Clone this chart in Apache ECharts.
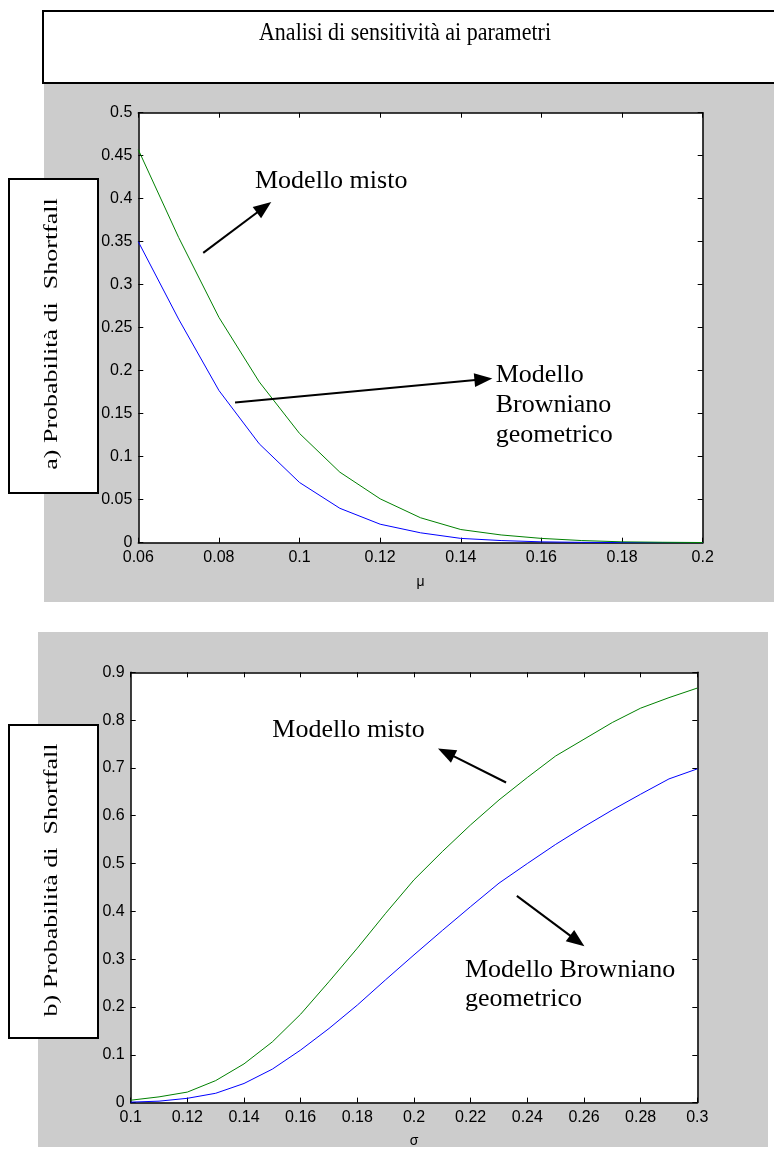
<!DOCTYPE html>
<html>
<head>
<meta charset="utf-8">
<script src="https://cdn.jsdelivr.net/npm/echarts@6/dist/echarts.min.js"></script>
<style>
html,body{margin:0;padding:0;background:#fff;}
#chart{width:774px;height:1153px;}
</style>
</head>
<body>
<div id="chart"></div>
<script>
// ---- Data: panel a) sensitivity to mu ----
const mu = [0.06,0.07,0.08,0.09,0.10,0.11,0.12,0.13,0.14,0.15,0.16,0.17,0.18,0.19,0.20];
const gbmA = [0.350,0.260,0.177,0.115,0.070,0.040,0.0215,0.0115,0.005,0.0025,0.001,0.0004,0.0002,0.0001,0.0];
const mixA = [0.457,0.355,0.262,0.187,0.127,0.082,0.051,0.029,0.0153,0.009,0.005,0.0025,0.001,0.0005,0.0002];

// ---- Data: panel b) sensitivity to sigma ----
const sigma = [0.10,0.11,0.12,0.13,0.14,0.15,0.16,0.17,0.18,0.19,0.20,0.21,0.22,0.23,0.24,0.25,0.26,0.27,0.28,0.29,0.30];
const gbmB = [0.001,0.003,0.009,0.0195,0.040,0.070,0.110,0.155,0.204,0.257,0.309,0.360,0.410,0.459,0.500,0.540,0.577,0.612,0.645,0.677,0.698];
const mixB = [0.005,0.012,0.022,0.046,0.081,0.127,0.185,0.253,0.323,0.396,0.466,0.525,0.581,0.633,0.680,0.725,0.760,0.795,0.825,0.847,0.867];

// ---- Annotation arrows (data coordinates: [from], [to]) ----
const arrowA1 = [[0.0761,0.337],[0.0912,0.390]];   // Modello misto
const arrowA2 = [[0.0840,0.163],[0.1456,0.190]];   // Modello Browniano geometrico
const arrowB1 = [[0.2325,0.6695],[0.2113,0.7323]]; // Modello misto
const arrowB2 = [[0.2363,0.4324],[0.2576,0.3382]]; // Modello Browniano geometrico

// ---- Text ----
const titleText = 'Analisi di sensitività ai parametri';
const yLabelA = 'a) Probabilità di  Shortfall';
const yLabelB = 'b) Probabilità di  Shortfall';
const xNameA = 'μ';
const xNameB = 'σ';

const pairs = (xs, ys) => xs.map((x, i) => [x, ys[i]]);
const fmt = v => String(+(+v).toFixed(4));

const SANS = 'Liberation Sans, Arial, sans-serif';
const SERIF = 'Liberation Serif, Times New Roman, serif';

function xAxisCfg(grid, min, max, interval, pos, name) {
  const main = pos === 'bottom';
  return {
    type: 'value', gridIndex: grid, min, max, interval, position: pos,
    axisLine: { show: true, onZero: false, lineStyle: { color: '#000', width: 1.5 } },
    axisTick: { show: true, inside: true, length: 5, lineStyle: { color: '#000', width: 1 } },
    axisLabel: { show: main, color: '#000', fontSize: 16, fontFamily: SANS, margin: 7, formatter: fmt },
    splitLine: { show: false },
    name: main ? name : '', nameLocation: 'middle', nameGap: 32,
    nameTextStyle: { color: '#000', fontSize: 14, fontFamily: SANS }
  };
}
function yAxisCfg(grid, min, max, interval, pos) {
  const main = pos === 'left';
  return {
    type: 'value', gridIndex: grid, min, max, interval, position: pos,
    axisLine: { show: true, onZero: false, lineStyle: { color: '#000', width: 1.5 } },
    axisTick: { show: true, inside: true, length: 5, lineStyle: { color: '#000', width: 1 } },
    axisLabel: { show: main, color: '#000', fontSize: 16, fontFamily: SANS, margin: 6, formatter: fmt },
    splitLine: { show: false }
  };
}
function arrowLine(a) {
  return {
    silent: true, animation: false,
    symbol: ['none', 'triangle'], symbolSize: [14, 18],
    label: { show: false },
    itemStyle: { color: '#000' },
    lineStyle: { color: '#000', width: 2, type: 'solid' },
    emphasis: { disabled: true },
    data: [[{ coord: a[0] }, { coord: a[1] }]]
  };
}
function lineSeries(x, y, data, color, mark) {
  const s = {
    type: 'line', xAxisIndex: x, yAxisIndex: y, data, showSymbol: false, symbol: 'none',
    lineStyle: { color, width: 1 }, itemStyle: { color }, animation: false, silent: true, z: 3
  };
  if (mark) s.markLine = mark;
  return s;
}
function annText(x, y, text) {
  return { type: 'text', x, y, z: 20,
    style: { text, fill: '#000', font: '26px ' + SERIF, textAlign: 'left', textVerticalAlign: 'middle' } };
}

const chart = echarts.init(document.getElementById('chart'), null, { renderer: 'canvas' });
chart.setOption({
  backgroundColor: '#fff',
  animation: false,
  grid: [
    { left: 138.3, top: 112.7, width: 564.4, height: 430 },
    { left: 130.7, top: 672.3, width: 566.6, height: 430.3 }
  ],
  xAxis: [
    xAxisCfg(0, 0.06, 0.2, 0.02, 'bottom', xNameA),
    xAxisCfg(0, 0.06, 0.2, 0.02, 'top'),
    xAxisCfg(1, 0.1, 0.3, 0.02, 'bottom', xNameB),
    xAxisCfg(1, 0.1, 0.3, 0.02, 'top')
  ],
  yAxis: [
    yAxisCfg(0, 0, 0.5, 0.05, 'left'),
    yAxisCfg(0, 0, 0.5, 0.05, 'right'),
    yAxisCfg(1, 0, 0.9, 0.1, 'left'),
    yAxisCfg(1, 0, 0.9, 0.1, 'right')
  ],
  graphic: [
    // gray figure backgrounds and white axes areas
    { type: 'rect', z: -10, shape: { x: 44, y: 83, width: 740, height: 519 }, style: { fill: '#cccccc' } },
    { type: 'rect', z: -9, shape: { x: 138.3, y: 112.7, width: 564.4, height: 430 }, style: { fill: '#fff' } },
    { type: 'rect', z: -10, shape: { x: 38, y: 632, width: 730, height: 515 }, style: { fill: '#cccccc' } },
    { type: 'rect', z: -9, shape: { x: 130.7, y: 672.3, width: 566.6, height: 430.3 }, style: { fill: '#fff' } },
    // title box
    { type: 'rect', z: 10, shape: { x: 43, y: 11, width: 760, height: 72 }, style: { fill: '#fff', stroke: '#000', lineWidth: 2 } },
    { type: 'text', z: 11, x: 405, y: 33, scaleY: 1.15,
      style: { text: titleText, fill: '#000', font: '22px ' + SERIF, textAlign: 'center', textVerticalAlign: 'middle' } },
    // y label boxes
    { type: 'rect', z: 10, shape: { x: 9, y: 179, width: 89, height: 314 }, style: { fill: '#fff', stroke: '#000', lineWidth: 2 } },
    { type: 'text', z: 11, x: 52, y: 334, rotation: Math.PI / 2, scaleY: 0.7,
      style: { text: yLabelA, fill: '#000', font: '26px ' + SERIF, textAlign: 'center', textVerticalAlign: 'middle' } },
    { type: 'rect', z: 10, shape: { x: 9, y: 725, width: 89, height: 313 }, style: { fill: '#fff', stroke: '#000', lineWidth: 2 } },
    { type: 'text', z: 11, x: 52, y: 880, rotation: Math.PI / 2, scaleY: 0.7,
      style: { text: yLabelB, fill: '#000', font: '26px ' + SERIF, textAlign: 'center', textVerticalAlign: 'middle' } },
    // annotation texts
    annText(255, 181.4, 'Modello misto'),
    annText(495.7, 374.7, 'Modello'),
    annText(495.7, 404.7, 'Browniano'),
    annText(495.7, 435.2, 'geometrico'),
    annText(272.3, 730.4, 'Modello misto'),
    annText(465, 970.4, 'Modello Browniano'),
    annText(465, 999.4, 'geometrico')
  ],
  series: [
    lineSeries(0, 0, pairs(mu, gbmA), '#0000ff', arrowLine(arrowA2)),
    lineSeries(0, 0, pairs(mu, mixA), '#008000', arrowLine(arrowA1)),
    lineSeries(2, 2, pairs(sigma, gbmB), '#0000ff', arrowLine(arrowB2)),
    lineSeries(2, 2, pairs(sigma, mixB), '#008000', arrowLine(arrowB1))
  ]
});
</script>
</body>
</html>
